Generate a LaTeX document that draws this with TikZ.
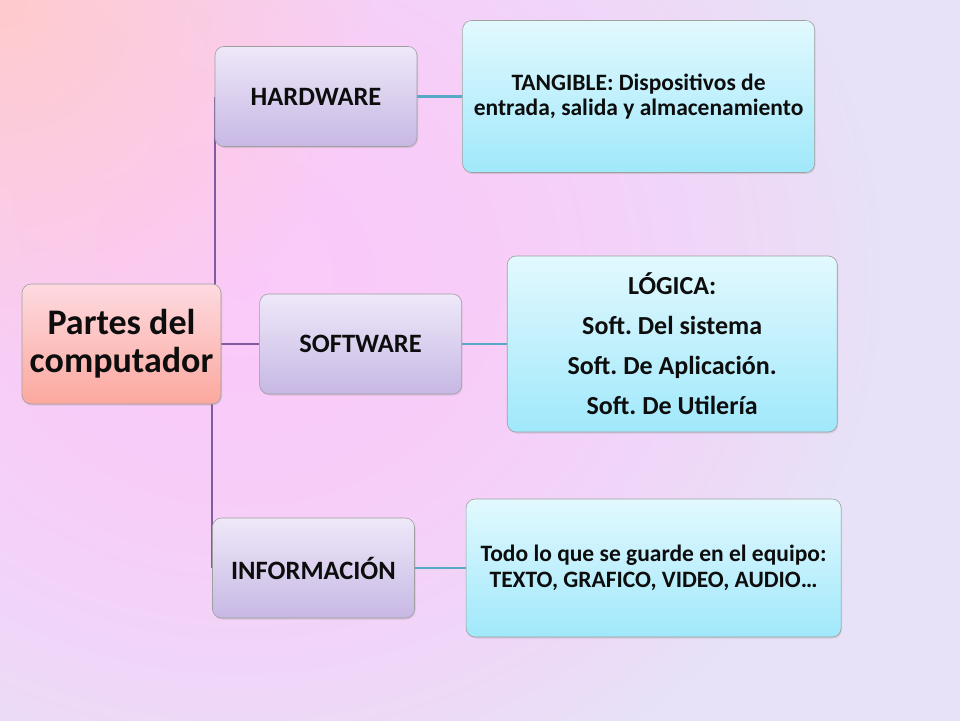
\documentclass[tikz,border=0pt]{standalone}
\usepackage{fontspec}
\setmainfont{Carlito}
\usepackage{tikz}
\usetikzlibrary{
    positioning,
    shadows
}
\definecolor{roottop}{RGB}{253, 218, 224}
\definecolor{rootbottom}{RGB}{252, 168, 158}
\definecolor{parttop}{RGB}{238, 232, 249}
\definecolor{partbottom}{RGB}{199, 184, 228}
\definecolor{detailtop}{RGB}{226, 249, 254}
\definecolor{detailbottom}{RGB}{160, 232, 251}
\definecolor{branchpurple}{RGB}{125, 92, 160}
\definecolor{leafteal}{RGB}{88, 168, 200}
\pgfdeclarelayer{back}
\pgfdeclarelayer{links}
\pgfsetlayers{back,links,main}
% peach corner, pink middle, lavender edges
\pgfdeclarefunctionalshading{slidebg}{\pgfpoint{0bp}{0bp}}{\pgfpoint{100bp}{100bp}}{}{
    25 sub 50 div exch 25 sub 50 div exch
    2 copy 0.62 sub 0.85 mul dup mul exch 0.25 sub dup mul add
    0.45 div 1 exch sub dup 0 lt {pop 0} if
    3 1 roll 1 exch sub 0.75 mul dup mul exch dup mul add sqrt
    0.4 div 1 exch sub dup 0 lt {pop 0} if
    2 copy exch 0.075 mul 0.905 add exch dup 1 exch sub 3 -1 roll mul exch 1.0 mul add
    3 1 roll
    2 copy exch -0.095 mul 0.885 add exch dup 1 exch sub 3 -1 roll mul exch 0.792 mul add
    3 1 roll
    2 copy exch 0.008 mul 0.967 add exch dup 1 exch sub 3 -1 roll mul exch 0.80 mul add
    3 1 roll pop pop
}
\frenchspacing

\begin{document}
\begin{tikzpicture}[
    x=1pt, y=1pt,
    node distance=40pt,
    box/.style={rectangle, rounded corners=9pt, draw=gray!75, line width=0.6pt, align=center, text=black!95,
        drop shadow={shadow xshift=1pt, shadow yshift=-1.5pt, opacity=0.22}},
    rootbox/.style={box, top color=roottop, bottom color=rootbottom, minimum width=199pt, minimum height=120pt,
        font=\bfseries\fontsize{36}{38}\selectfont},
    partbox/.style={box, top color=parttop, bottom color=partbottom, minimum width=202pt, minimum height=100pt,
        font=\bfseries\fontsize{26.5}{30}\selectfont},
    detailbox/.style={box, top color=detailtop, bottom color=detailbottom,
        font=\bfseries\fontsize{23.5}{25.5}\selectfont},
    branch/.style={draw=branchpurple, line width=2.4pt},
    leaf/.style={draw=leafteal, line width=2.8pt}
]
    \useasboundingbox (0,0) rectangle (960,-720);

    % Background
    \begin{pgfonlayer}{back}
        \shade[shading=slidebg] (0,0) rectangle (960,-720);
    \end{pgfonlayer}

    % Root
    \node[rootbox] (root) at (121.5,-344) {Partes del\\computador};

    % Parts
    \node[partbox] (hardware) at (316,-96.5) {HARDWARE};
    \node[partbox, right=38pt of root] (software) {SOFTWARE};
    \node[partbox] (information) at (313.5,-568) {INFORMACIÓN};

    % Details
    \node[detailbox, minimum width=352pt, minimum height=152pt, right=45pt of hardware] (tangible)
        {TANGIBLE: Dispositivos de\\entrada, salida y almacenamiento};
    \node[detailbox, minimum width=330pt, minimum height=176pt, right=45pt of software,
        font=\bfseries\fontsize{26}{40}\selectfont] (logic)
        {LÓGICA:\\Soft. Del sistema\\Soft. De Aplicación.\\Soft. De Utilería};
    \node[detailbox, minimum width=375pt, minimum height=138pt, right=51pt of information] (content)
        {Todo lo que se guarde en el equipo:\\TEXTO, GRAFICO, VIDEO, AUDIO…};

    % Connectors
    \begin{pgfonlayer}{links}
        \draw[branch] (hardware.west) |- (root.east);
        \draw[branch] (root.east) -- (software.west);
        \draw[branch] (information.west) |- (root.east);
        \draw[leaf] (hardware) -- (tangible);
        \draw[leaf] (software) -- (logic);
        \draw[leaf] (information) -- (content);
    \end{pgfonlayer}

\end{tikzpicture}
\end{document}
